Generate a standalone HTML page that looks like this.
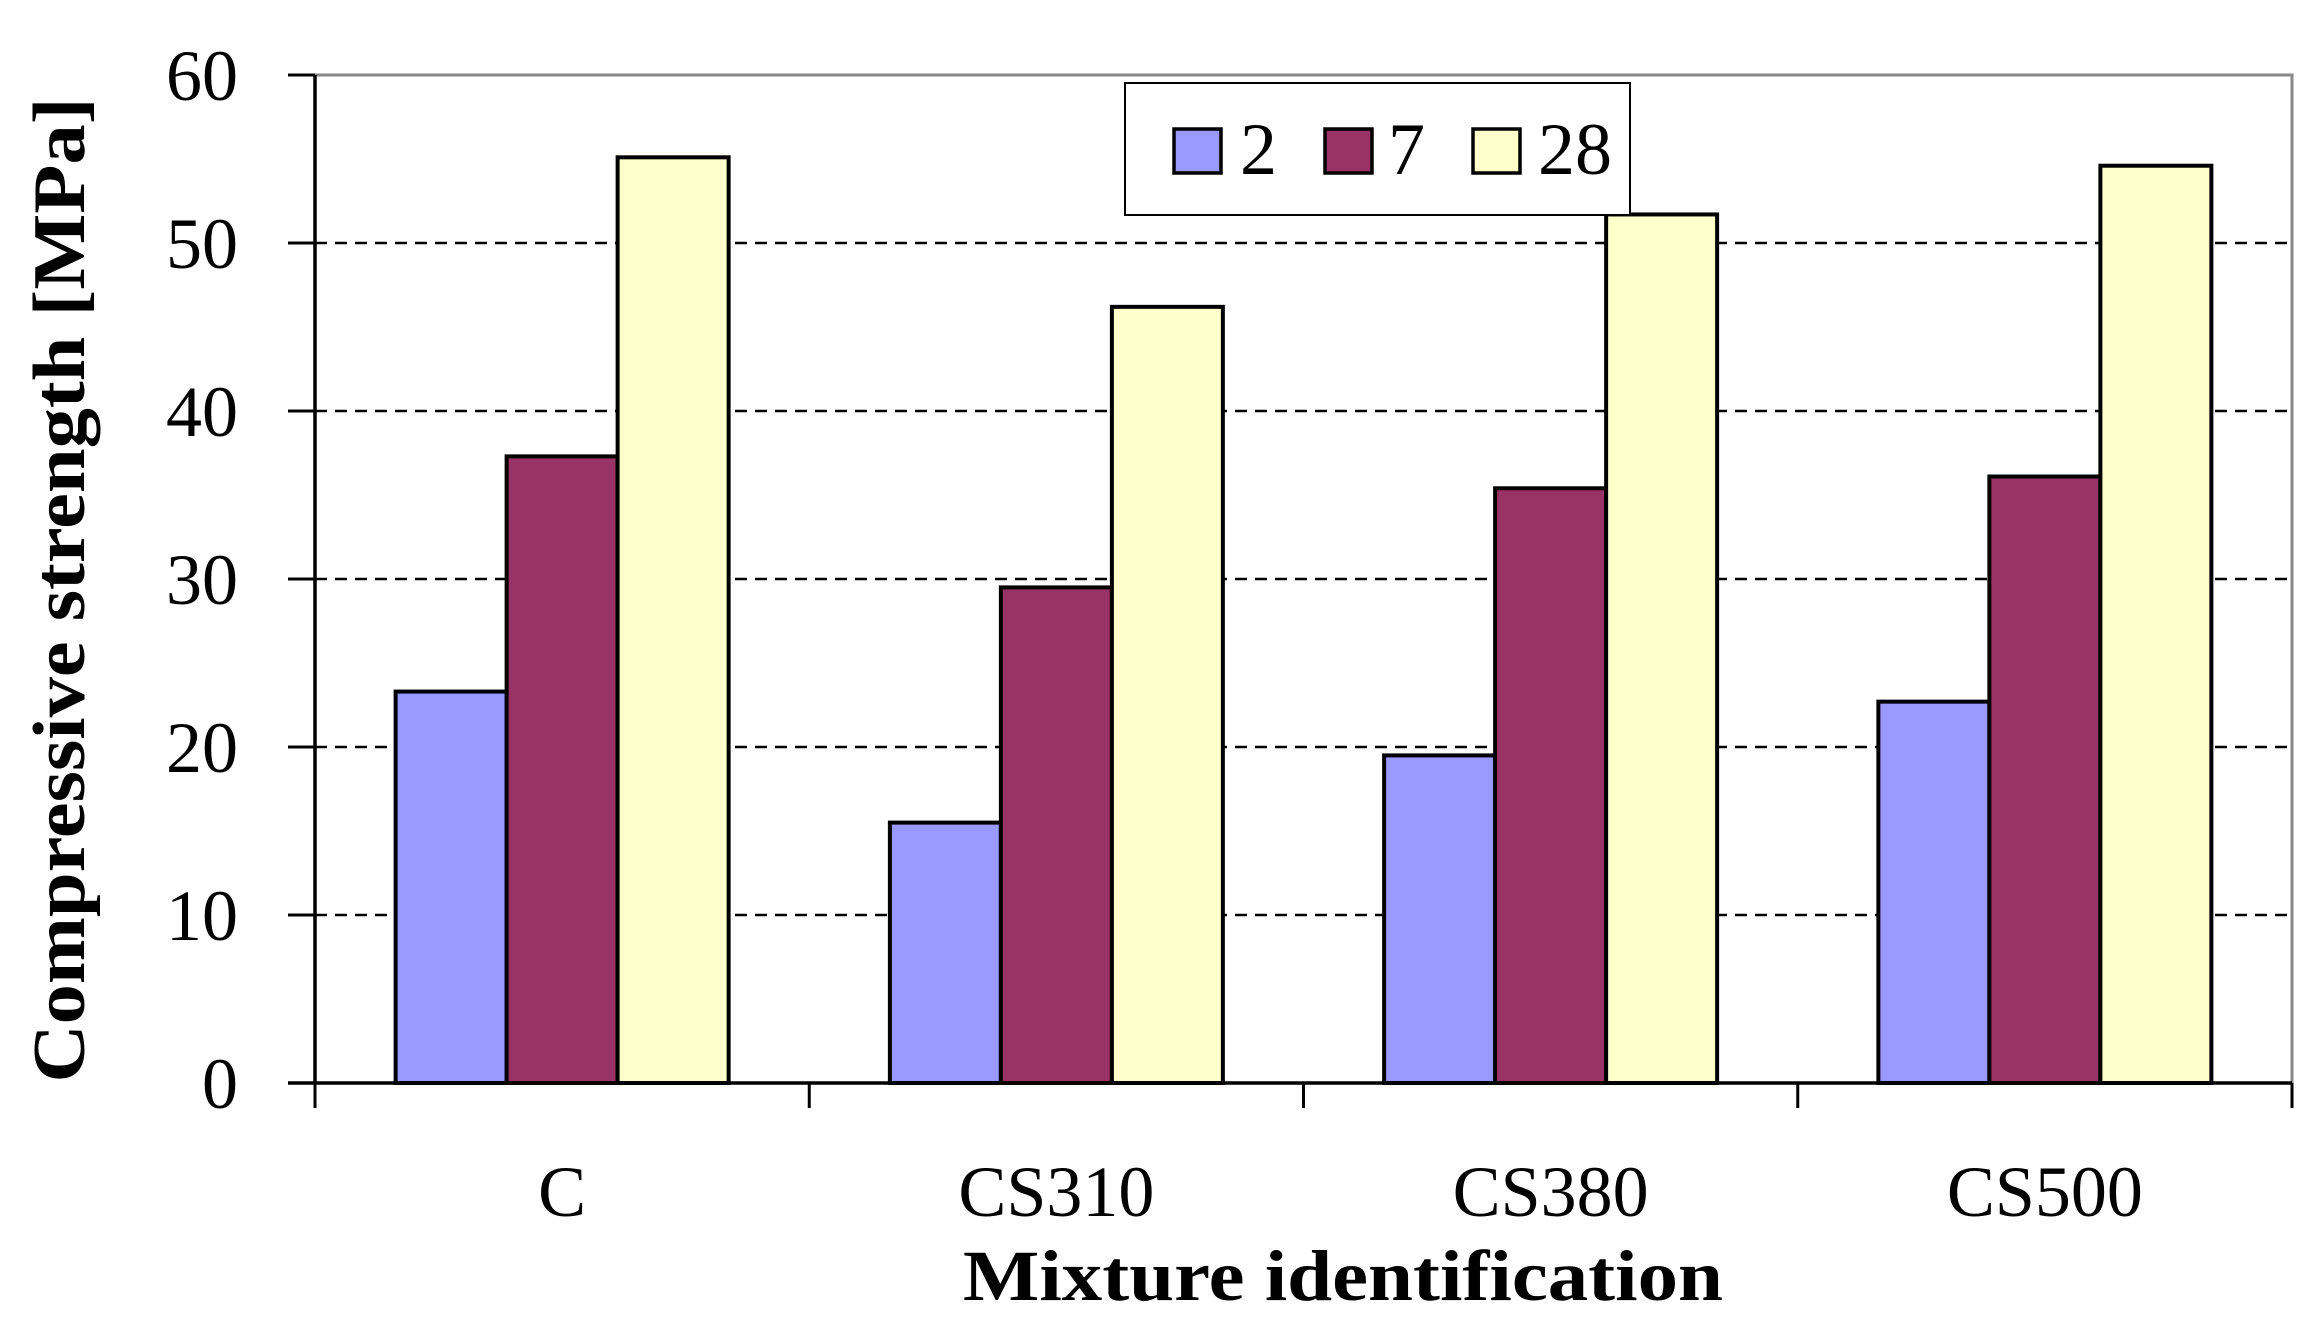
<!DOCTYPE html>
<html><head><meta charset="utf-8"><style>
html,body{margin:0;padding:0;background:#fff;}
svg{display:block;font-family:"Liberation Serif",serif;}
</style></head><body>
<svg id="chart" width="2322" height="1329" viewBox="0 0 2322 1329" xmlns="http://www.w3.org/2000/svg">
<rect x="315" y="75" width="1977" height="1008" fill="#fff" stroke="#888" stroke-width="3"/>
<g id="grid"></g><g id="bars"></g><g id="axes"></g><g id="labels"></g>
<text transform="translate(84,590) rotate(-90)" text-anchor="middle" font-size="74" font-weight="bold" textLength="985" lengthAdjust="spacingAndGlyphs">Compressive strength [MPa]</text>
<text x="1343" y="1300" text-anchor="middle" font-size="72" font-weight="bold" textLength="760" lengthAdjust="spacingAndGlyphs">Mixture identification</text>
<g>
<rect x="1125" y="83" width="505" height="132" fill="#fff" stroke="#000" stroke-width="2"/>
<g id="legend-items"></g>
</g>
</svg>
<script>
const categories = ["C","CS310","CS380","CS500"];
const seriesNames = ["2","7","28"];
const series2 = [23.3,15.5,19.5,22.7];
const series7 = [37.3,29.5,35.4,36.1];
const series28 = [55.1,46.2,51.7,54.6];
const yTicks = [0,10,20,30,40,50,60];
const colors = ["#9999ff","#993366","#ffffcc"];
const NS="http://www.w3.org/2000/svg";
const L=315,R=2292,T=75,B=1083,yMax=60;
const y=v=>B-(v/yMax)*(B-T);
const catW=(R-L)/categories.length;
const xc=i=>L+catW*(i+0.5);
const barW=111;
function mk(tag,attrs,parent){const e=document.createElementNS(NS,tag);for(const k in attrs)e.setAttribute(k,attrs[k]);parent.appendChild(e);return e;}
const grid=document.getElementById('grid'),bars=document.getElementById('bars'),axes=document.getElementById('axes'),labels=document.getElementById('labels');
yTicks.forEach(t=>{
  if(t>0&&t<yMax){const g=mk('line',{x1:L,x2:R,y1:y(t),y2:y(t),stroke:'#000','stroke-width':2.5,'stroke-dasharray':'12 8'},grid);
  
  }
  const tk=mk('line',{x1:288,x2:L,y1:y(t),y2:y(t),stroke:'#000','stroke-width':3},axes);
  
  
  const tx=mk('text',{x:238,y:y(t)+25,'text-anchor':'end','font-size':72},labels);
  tx.textContent=t;
  
  
});
const all=[series2,series7,series28];
categories.forEach((c,i)=>{
  all.forEach((s,j)=>{
    const x0=xc(i)-1.5*barW+j*barW;
    const r=mk('rect',{x:x0,y:y(s[i]),width:barW,height:B-y(s[i]),fill:colors[j],stroke:'#000','stroke-width':4},bars);
    
    
  });
  const tx=mk('text',{x:xc(i),y:1216,'text-anchor':'middle','font-size':72},labels);
  tx.textContent=c;
  
  
});
for(let i=0;i<=categories.length;i++){
  const xx=L+catW*i;
  const tk=mk('line',{x1:xx,x2:xx,y1:B,y2:1108,stroke:'#000','stroke-width':3},axes);
  
  
}
const ya=mk('line',{x1:L,x2:L,y1:T,y2:B,stroke:'#000','stroke-width':3.5},axes);


const xa=mk('line',{x1:288,x2:R,y1:B,y2:B,stroke:'#000','stroke-width':3.5},axes);


const li=document.getElementById('legend-items');
const lx=[1174,1325,1473],tx2=[1240,1388,1538];
seriesNames.forEach((n,j)=>{
  const r=mk('rect',{x:lx[j],y:129,width:47,height:44,fill:colors[j],stroke:'#000','stroke-width':3.5},li);
  
  
  const t=mk('text',{x:tx2[j],y:174,'font-size':74},li);
  t.textContent=n;
  
  
});
</script>
</body></html>
